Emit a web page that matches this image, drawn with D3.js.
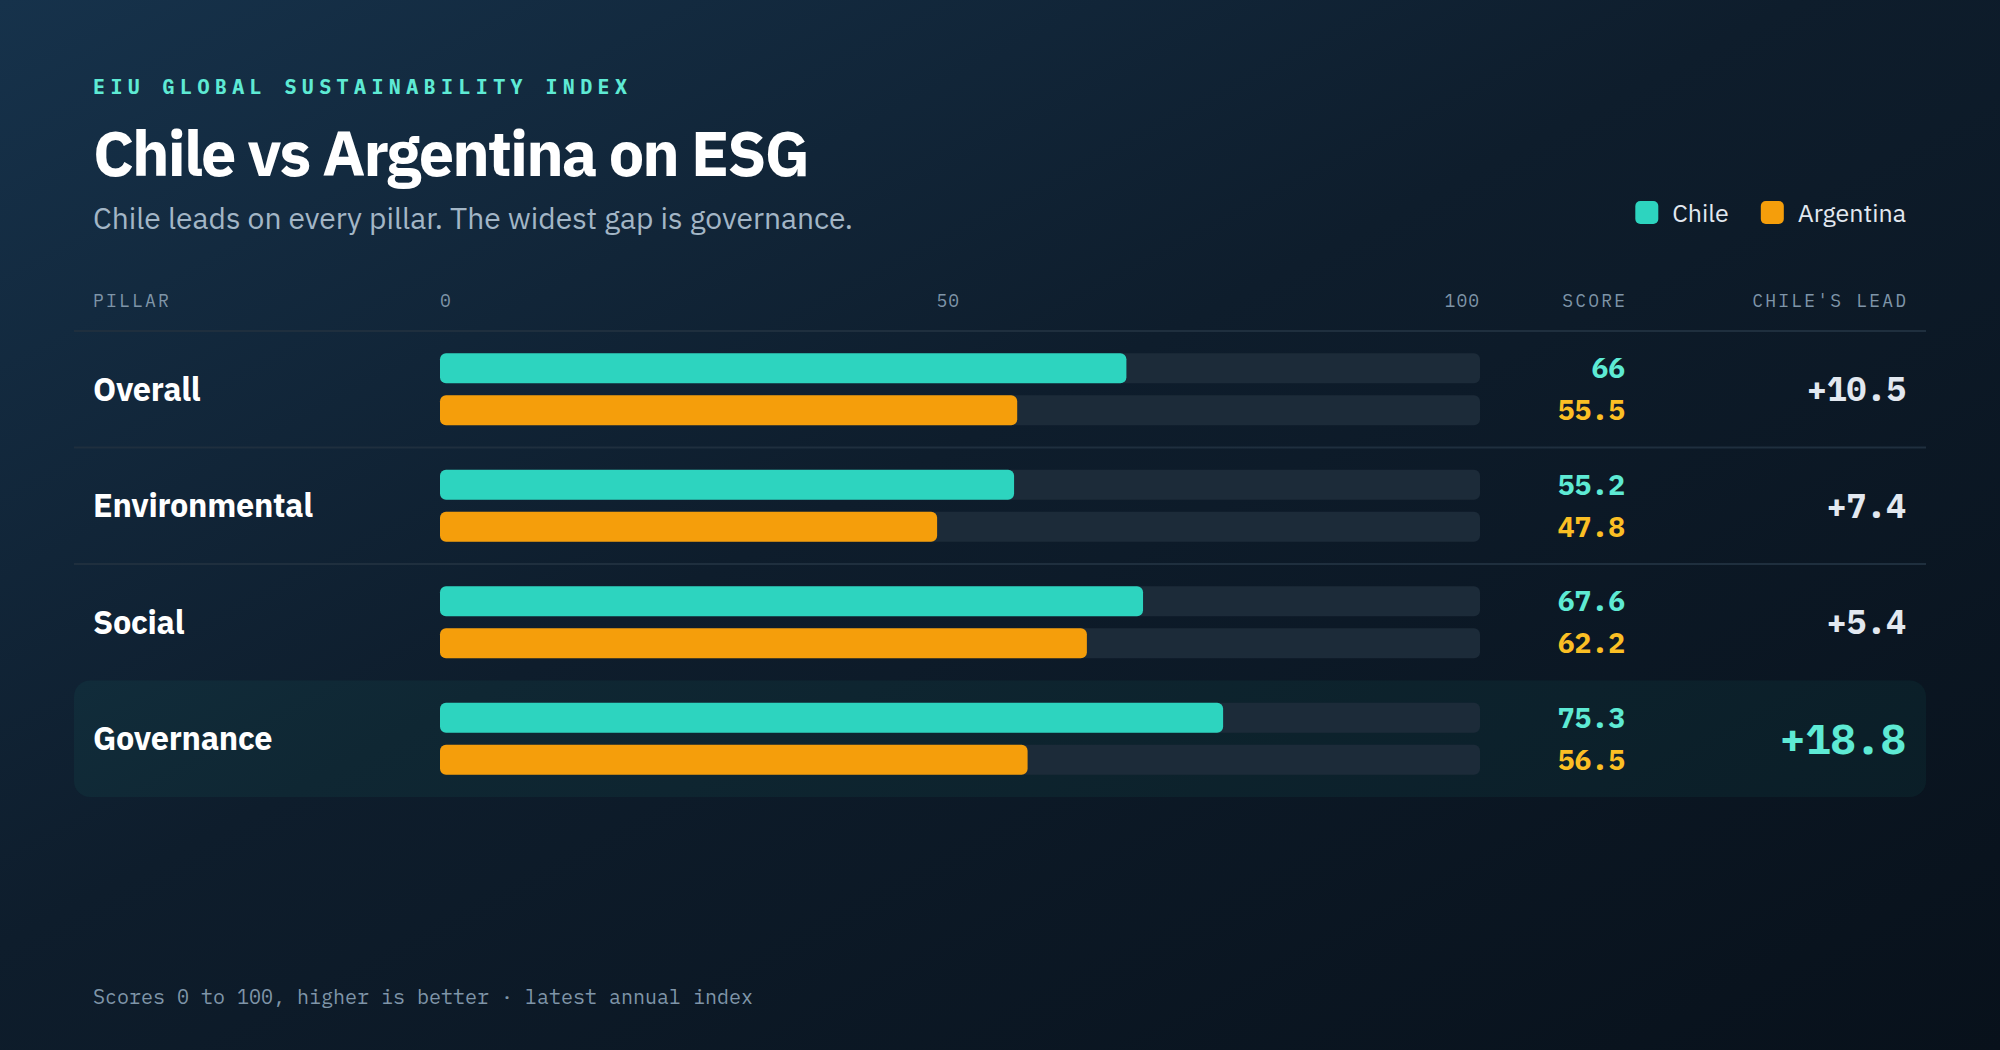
<!DOCTYPE html>
<html>
<head>
<meta charset="utf-8">
<script src="https://cdn.jsdelivr.net/npm/d3@7"></script>
<style>
  html, body { margin: 0; padding: 0; background: #0b1622; }
  svg { display: block; }
  .sans { font-family: "IBM Plex Sans", "Noto Sans", "Open Sans", sans-serif; }
  .mono { font-family: "IBM Plex Mono", "DejaVu Sans Mono", "Liberation Mono", monospace; }
</style>
</head>
<body>
<div id="chart"></div>
<script>
// data
var pillars = ["Overall", "Environmental", "Social", "Governance"];
var chileScores = [66, 55.2, 67.6, 75.3];
var argentinaScores = [55.5, 47.8, 62.2, 56.5];
var axisTicks = [0, 50, 100];
var seriesNames = ["Chile", "Argentina"];

var svgWidth = 2000;
var svgHeight = 1050;

var colors = {
  chile: "#2dd4bf",
  argentina: "#f59e0b",
  chileText: "#5eead4",
  argentinaText: "#fbbf24",
  track: "#1c2b39",
  muted: "#7f95a8",
  rule: "#1f2f3e"
};

var left = 93, right = 1906;
var rowTop = 331, rowH = 116.5;
var barH = 30, barGap = 12;

var svg = d3.select("#chart")
  .append("svg")
  .attr("width", svgWidth)
  .attr("height", svgHeight);

// background gradient
var defs = svg.append("defs");
var bg = defs.append("linearGradient")
  .attr("id", "bg")
  .attr("x1", "0%").attr("y1", "0%")
  .attr("x2", "100%").attr("y2", "100%");
bg.append("stop").attr("offset", "0%").attr("stop-color", "#16324b");
bg.append("stop").attr("offset", "45%").attr("stop-color", "#0e1d2c");
bg.append("stop").attr("offset", "100%").attr("stop-color", "#08111b");

svg.append("rect")
  .attr("width", svgWidth)
  .attr("height", svgHeight)
  .attr("fill", "url(#bg)");

// headings
svg.append("text")
  .attr("class", "mono")
  .attr("x", left).attr("y", 94)
  .attr("fill", colors.chileText)
  .attr("font-size", 20)
  .attr("font-weight", 700)
  .attr("letter-spacing", 5.4)
  .text("EIU GLOBAL SUSTAINABILITY INDEX");

svg.append("text")
  .attr("class", "sans")
  .attr("x", left).attr("y", 176)
  .attr("fill", "#ffffff")
  .attr("font-size", 63)
  .attr("font-weight", 700)
  .attr("letter-spacing", -1.9)
  .text("Chile vs Argentina on ESG");

svg.append("text")
  .attr("class", "sans")
  .attr("x", left).attr("y", 229)
  .attr("fill", "#a3b6c6")
  .attr("font-size", 30)
  .text("Chile leads on every pillar. The widest gap is governance.");

// legend, laid out from the right edge
var legend = svg.append("g").attr("class", "sans");
var legendX = right;
var legendItems = seriesNames.slice().reverse();
legendItems.forEach(function(name) {
  var t = legend.append("text")
    .attr("x", legendX).attr("y", 222)
    .attr("text-anchor", "end")
    .attr("fill", "#e2e8f0")
    .attr("font-size", 25)
    .text(name);
  var w = t.node().getComputedTextLength();
  legend.append("rect")
    .attr("x", legendX - w - 37).attr("y", 201)
    .attr("width", 23).attr("height", 23)
    .attr("rx", 5)
    .attr("fill", name === "Chile" ? colors.chile : colors.argentina);
  legendX = legendX - w - 37 - 32;
});

// scale
var x = d3.scaleLinear().domain([0, 100]).range([440, 1480]);

// header row
var headY = 307;
function headLabel(txt, xPos, anchor) {
  return svg.append("text")
    .attr("class", "mono")
    .attr("x", xPos).attr("y", headY)
    .attr("text-anchor", anchor)
    .attr("fill", colors.muted)
    .attr("font-size", 18)
    .attr("letter-spacing", 2.2)
    .text(txt);
}
headLabel("PILLAR", left, "start");
headLabel("SCORE", 1625 + 2.2, "end");
headLabel("CHILE'S LEAD", right + 2.2, "end");

// axis ticks spread like a flex row: first left, last right, middle centred in the gap
var tickG = svg.append("g").attr("class", "mono");
var tickNodes = axisTicks.map(function(t) {
  return tickG.append("text")
    .attr("y", headY)
    .attr("fill", colors.muted)
    .attr("font-size", 18)
    .attr("letter-spacing", 1)
    .text(t);
});
var w0 = tickNodes[0].node().getComputedTextLength();
var wN = tickNodes[tickNodes.length - 1].node().getComputedTextLength();
tickNodes[0].attr("x", x(axisTicks[0])).attr("text-anchor", "start");
tickNodes[tickNodes.length - 1].attr("x", x(axisTicks[axisTicks.length - 1])).attr("text-anchor", "end");
tickNodes[1].attr("x", (x(axisTicks[0]) + w0 + x(axisTicks[axisTicks.length - 1]) - wN) / 2)
  .attr("text-anchor", "middle");

// rows
var leads = chileScores.map(function(c, i) { return Math.round((c - argentinaScores[i]) * 10) / 10; });
var topLead = d3.max(leads);

var rows = svg.selectAll("g.row")
  .data(pillars)
  .enter()
  .append("g")
  .attr("class", "row")
  .attr("transform", function(d, i) { return "translate(0," + (rowTop + i * rowH) + ")"; });

rows.each(function(d, i) {
  var g = d3.select(this);
  var mid = rowH / 2;
  var hi = leads[i] === topLead;

  if (hi) {
    g.append("rect")
      .attr("x", 74).attr("y", 0)
      .attr("width", 1926 - 74).attr("height", rowH)
      .attr("rx", 16)
      .attr("fill", "#2dd4bf")
      .attr("fill-opacity", 0.055);
  } else {
    g.append("line")
      .attr("x1", 74).attr("x2", 1926)
      .attr("y1", 0).attr("y2", 0)
      .attr("stroke", colors.rule)
      .attr("stroke-width", 2);
  }

  g.append("text")
    .attr("class", "sans")
    .attr("x", left).attr("y", mid)
    .attr("dy", "0.35em")
    .attr("fill", "#ffffff")
    .attr("font-size", 32.5)
    .attr("font-weight", 700)
    .attr("letter-spacing", -0.3)
    .text(d);

  var series = [
    { v: chileScores[i], c: colors.chile, tc: colors.chileText, y: mid - barGap / 2 - barH },
    { v: argentinaScores[i], c: colors.argentina, tc: colors.argentinaText, y: mid + barGap / 2 }
  ];

  series.forEach(function(s) {
    g.append("rect")
      .attr("x", x(0)).attr("y", s.y)
      .attr("width", x(100) - x(0)).attr("height", barH)
      .attr("rx", 6)
      .attr("fill", colors.track);
    g.append("rect")
      .attr("x", x(0)).attr("y", s.y)
      .attr("width", x(s.v) - x(0)).attr("height", barH)
      .attr("rx", 6)
      .attr("fill", s.c);
    g.append("text")
      .attr("class", "mono")
      .attr("x", 1625).attr("y", s.y + barH / 2)
      .attr("dy", "0.36em")
      .attr("text-anchor", "end")
      .attr("fill", s.tc)
      .attr("font-size", 28)
      .attr("font-weight", 700)
      .text(s.v);
  });

  g.append("text")
    .attr("class", "mono")
    .attr("x", right).attr("y", mid)
    .attr("dy", "0.36em")
    .attr("text-anchor", "end")
    .attr("fill", hi ? colors.chileText : "#e2e8f0")
    .attr("font-size", hi ? 42 : 33)
    .attr("font-weight", 700)
    .text("+" + leads[i]);
});

// header rule
svg.append("line")
  .attr("x1", 74).attr("x2", 1926)
  .attr("y1", rowTop).attr("y2", rowTop)
  .attr("stroke", colors.rule)
  .attr("stroke-width", 2);

// footer
svg.append("text")
  .attr("class", "mono")
  .attr("x", left).attr("y", 1004)
  .attr("fill", colors.muted)
  .attr("font-size", 20)
  .text("Scores 0 to 100, higher is better \u00b7 latest annual index");
</script>
</body>
</html>
